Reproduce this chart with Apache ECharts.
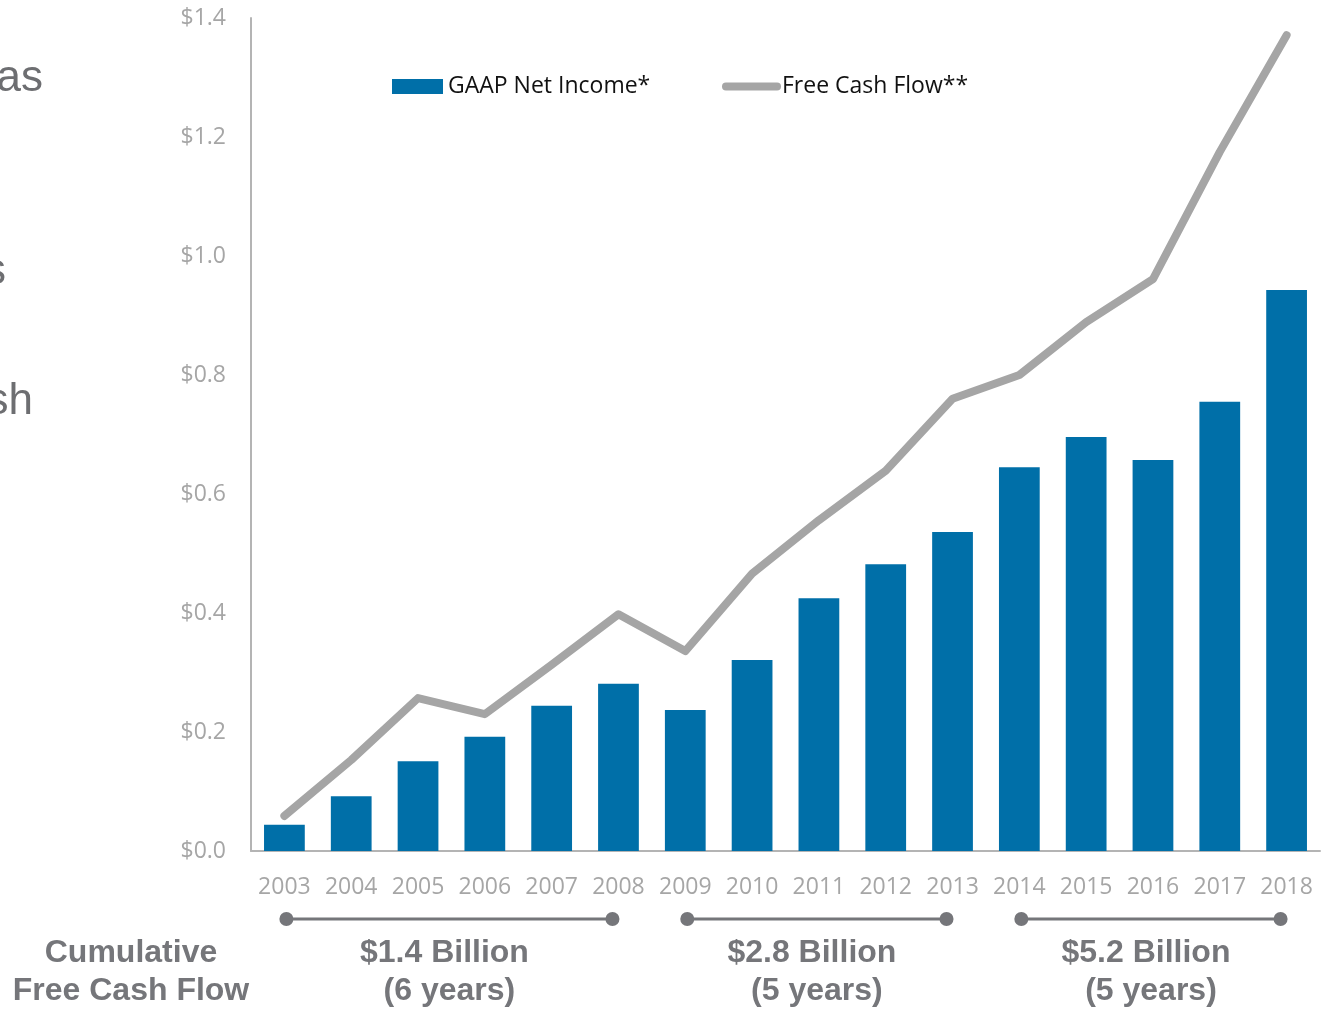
<!DOCTYPE html>
<html>
<head>
<meta charset="utf-8">
<script src="https://cdn.jsdelivr.net/npm/echarts@6/dist/echarts.min.js"></script>
<style>
html,body{margin:0;padding:0;background:#fff;}
#chart{width:1325px;height:1009px;}
</style>
</head>
<body>
<div id="chart"></div>
<script>
const years = ['2003','2004','2005','2006','2007','2008','2009','2010','2011','2012','2013','2014','2015','2016','2017','2018'];
const netIncome = [0.044,0.092,0.151,0.192,0.244,0.281,0.237,0.321,0.425,0.482,0.536,0.645,0.696,0.657,0.755,0.943];
const freeCashFlow = [0.059,0.153,0.257,0.230,0.313,0.398,0.336,0.466,0.556,0.639,0.760,0.800,0.889,0.961,1.175,1.371];
const periods = [
  {from:'2003', to:'2008', amount:'$1.4 Billion', span:'(6 years)'},
  {from:'2009', to:'2013', amount:'$2.8 Billion', span:'(5 years)'},
  {from:'2014', to:'2018', amount:'$5.2 Billion', span:'(5 years)'}
];
const sideFragments = [
  {text:'as', y:79, right:43},
  {text:'s', y:272, right:6},
  {text:'sh', y:402, right:33}
];

const blue = '#006fa8';
const gray = '#a5a5a5';
const darkGray = '#75767a';
const tickFont = '"Open Sans", "Noto Sans", sans-serif';

const chart = echarts.init(document.getElementById('chart'), null, {renderer:'canvas'});
chart.setOption({
  animation:false,
  grid:{left:251, right:5, top:18, bottom:158, containLabel:false},
  legend:[
    {data:[{name:'GAAP Net Income*', icon:'rect'}], left:392, top:75, padding:0, itemWidth:51, itemHeight:15, itemGap:5,
     textStyle:{fontSize:23, color:'#111', fontFamily:tickFont, padding:[0,0,0,0]}},
    {data:[{name:'Free Cash Flow**', icon:'path://M4,0 L55,0 A4,4 0 0 1 55,8 L4,8 A4,4 0 0 1 4,0 Z', itemStyle:{color:gray}}], left:722, top:75, padding:0, itemWidth:59, itemHeight:8,
     textStyle:{fontSize:23, color:'#111', fontFamily:tickFont, padding:[0,0,0,-4]}}
  ],
  xAxis:{
    type:'category', data:years,
    axisLine:{lineStyle:{color:'#b4b4b4', width:2}},
    axisTick:{show:false},
    axisLabel:{color:'#a6a6a6', fontSize:23, fontFamily:tickFont, margin:25, interval:0}
  },
  yAxis:{
    type:'value', min:0, max:1.4, interval:0.2,
    axisLine:{show:true, lineStyle:{color:'#b4b4b4', width:2}},
    axisTick:{show:false},
    splitLine:{show:false},
    axisLabel:{color:'#a6a6a6', fontSize:23, fontFamily:tickFont, margin:25,
      formatter:v => '$' + v.toFixed(1)}
  },
  series:[
    {name:'GAAP Net Income*', type:'bar', data:netIncome, barWidth:'61%',
     itemStyle:{color:blue}},
    {name:'Free Cash Flow**', type:'line', data:freeCashFlow, symbol:'none', showSymbol:false,
     lineStyle:{color:gray, width:8, cap:'round', join:'round'}, itemStyle:{color:gray}, z:5}
  ]
});

// Bracket annotations placed from the category axis positions
const elements = [];
const textStyleBold = {fontFamily:'"Liberation Sans", Arial, sans-serif', fontWeight:'bold', fontSize:32, fill:darkGray, textAlign:'center', textVerticalAlign:'middle'};
periods.forEach(p => {
  const x1 = chart.convertToPixel({xAxisIndex:0}, p.from) + 2;
  const x2 = chart.convertToPixel({xAxisIndex:0}, p.to) - 6;
  const y = 919;
  elements.push({type:'line', shape:{x1:x1, y1:y, x2:x2, y2:y}, style:{stroke:darkGray, lineWidth:3}});
  elements.push({type:'circle', shape:{cx:x1, cy:y, r:7}, style:{fill:darkGray}});
  elements.push({type:'circle', shape:{cx:x2, cy:y, r:7}, style:{fill:darkGray}});
  const cx = (x1 + x2) / 2;
  elements.push({type:'text', x:cx - 5, y:953, style:Object.assign({text:p.amount}, textStyleBold)});
  elements.push({type:'text', x:cx, y:991, style:Object.assign({text:p.span}, textStyleBold)});
});
elements.push({type:'text', x:131, y:953, style:Object.assign({text:'Cumulative'}, textStyleBold)});
elements.push({type:'text', x:131, y:991, style:Object.assign({text:'Free Cash Flow'}, textStyleBold)});
sideFragments.forEach(f => {
  elements.push({type:'text', x:f.right, y:f.y, style:{text:f.text, fontFamily:'"Liberation Sans", Arial, sans-serif', fontSize:44, fill:'#6d6e71', textAlign:'right', textVerticalAlign:'middle'}});
});
chart.setOption({graphic:{elements:elements}});
</script>
</body>
</html>
